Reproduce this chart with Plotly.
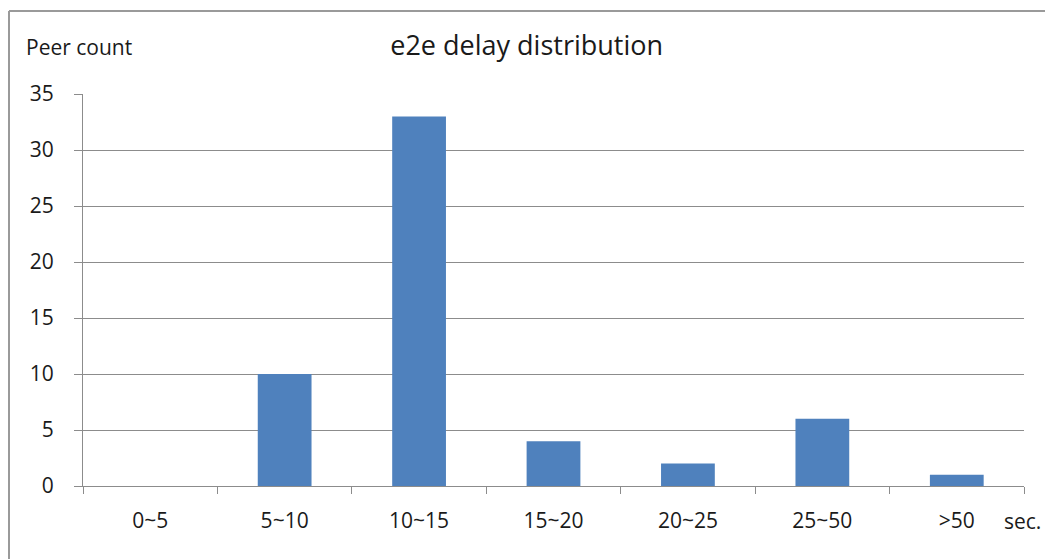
import plotly.graph_objects as go

# Delay buckets (seconds) and number of peers in each
delay_bins = ["0~5", "5~10", "10~15", "15~20", "20~25", "25~50", ">50"]
peer_counts = [0, 10, 33, 4, 2, 6, 1]
y_ticks = [0, 5, 10, 15, 20, 25, 30, 35]

W, H = 1045, 559
L, R, T, B = 83, 21, 94, 73
plot_w = W - L - R
plot_h = H - T - B

def px_x(px):
    return (px - L) / plot_w

def px_y(py):
    return (H - B - py) / plot_h

FONT = "Open Sans"
GRID = "#8c8c8c"
TXT = 21

fig = go.Figure(
    go.Bar(
        x=delay_bins,
        y=peer_counts,
        marker=dict(color="#4f81bd", line=dict(width=0)),
        width=0.4,
        hoverinfo="x+y",
    )
)

fig.update_layout(
    width=W,
    height=H,
    margin=dict(l=L, r=R, t=T, b=B),
    paper_bgcolor="white",
    plot_bgcolor="white",
    showlegend=False,
    font=dict(family=FONT, color="#1a1a1a", size=TXT),
    title=dict(
        text="e2e delay distribution",
        x=0.504,
        xanchor="center",
        y=1 - 46 / H,
        yanchor="middle",
        font=dict(family=FONT, size=27, color="#1a1a1a"),
    ),
    xaxis=dict(
        type="category",
        showgrid=False,
        showline=True,
        linecolor=GRID,
        linewidth=1.3,
        ticks="outside",
        tickson="boundaries",
        ticklen=7,
        tickcolor=GRID,
        tickwidth=1.3,
        ticklabelstandoff=16,
        tickfont=dict(size=TXT),
        fixedrange=True,
    ),
    yaxis=dict(
        range=[0, 35],
        tickvals=y_ticks,
        showgrid=True,
        gridcolor=GRID,
        gridwidth=1.1,
        showline=True,
        linecolor=GRID,
        linewidth=1.3,
        ticks="outside",
        ticklen=8,
        tickcolor=GRID,
        tickwidth=1.3,
        ticklabelstandoff=16,
        tickfont=dict(size=TXT),
        zeroline=False,
        fixedrange=True,
    ),
    shapes=[
        # frame: top and left edges of the chart box
        dict(
            type="line",
            xref="paper",
            yref="paper",
            x0=px_x(9),
            x1=px_x(1046),
            y0=px_y(11),
            y1=px_y(11),
            line=dict(color="#9a9a9a", width=2),
            layer="below",
        ),
        dict(
            type="line",
            xref="paper",
            yref="paper",
            x0=px_x(9),
            x1=px_x(9),
            y0=px_y(11),
            y1=px_y(560),
            line=dict(color="#9a9a9a", width=2),
            layer="below",
        ),
    ],
    annotations=[
        dict(
            text="Peer count",
            xref="paper",
            yref="paper",
            x=px_x(24),
            y=px_y(47),
            xanchor="left",
            yanchor="middle",
            showarrow=False,
            font=dict(size=TXT),
        ),
        dict(
            text="sec.",
            xref="paper",
            yref="paper",
            x=px_x(1002),
            y=px_y(521),
            xanchor="left",
            yanchor="middle",
            showarrow=False,
            font=dict(size=TXT),
        ),
    ],
)

fig.write_html("out.html")
